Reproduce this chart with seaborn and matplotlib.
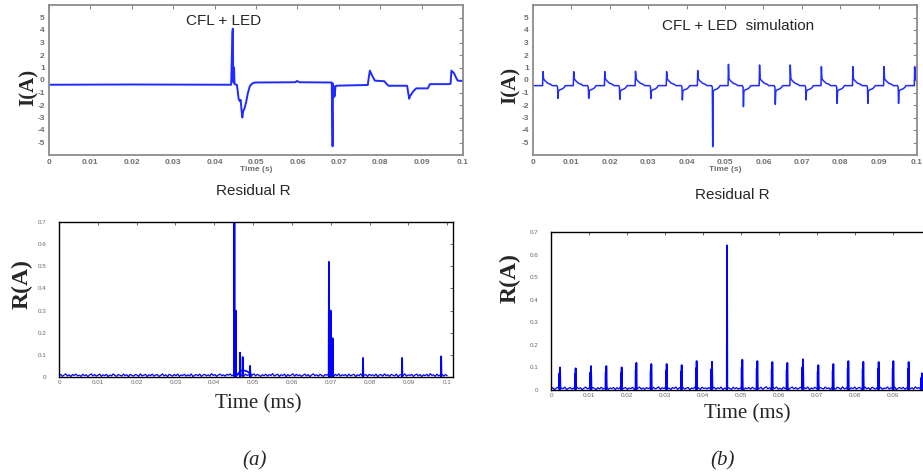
import numpy as np
import pandas as pd
import matplotlib
matplotlib.use("Agg")
import matplotlib.pyplot as plt
import seaborn as sns

# ---------------- data ----------------
# (a) measured current, CFL + LED
meas_t = [0.0, 0.0200, 0.0440, 0.04430, 0.04440, 0.04450, 0.04460, 0.04470, 0.04480,
          0.04500, 0.04540, 0.04580, 0.04610, 0.04630, 0.04650, 0.04670, 0.04690,
          0.04720, 0.04760, 0.04800, 0.04850, 0.04900, 0.04970, 0.05500, 0.05950,
          0.05990, 0.06050, 0.06830, 0.06850, 0.06860, 0.06870, 0.06880, 0.06900,
          0.06920, 0.06940, 0.06960, 0.07000, 0.07400, 0.07700, 0.07720, 0.07750,
          0.07790, 0.07870, 0.08100, 0.08150, 0.08200, 0.08650, 0.08700, 0.08720,
          0.08800, 0.08870, 0.09150, 0.09200, 0.09650, 0.09700, 0.09720, 0.09780,
          0.09870, 0.1000]
meas_i = [-0.38, -0.36, -0.38, 3.8, 4.1, 0.1, -0.2, 1.0, -0.3,
          -0.35, -0.4, -1.5, -1.7, -1.6, -2.4, -3.0, -2.5,
          -2.3, -1.8, -1.1, -0.5, -0.3, -0.2, -0.19, -0.18,
          -0.08, -0.18, -0.2, -5.3, -0.3, -1.4, -0.5, -1.3,
          -0.5, -0.46, -0.46, -0.45, -0.42, -0.4, 0.1, 0.75,
          0.45, -0.05, -0.1, -0.3, -0.46, -0.46, -1.5, -1.3,
          -0.9, -0.67, -0.67, -0.33, -0.33, -0.3, 0.75, 0.55,
          -0.05, -0.08]

# (a) residual R
res_a_spike_t = [0.04518, 0.04552, 0.04664, 0.04733, 0.04923,
                 0.06954, 0.06997, 0.07048, 0.07831, 0.08838, 0.09845]
res_a_spike_h = [0.70, 0.30, 0.11, 0.09, 0.05,
                 0.52, 0.30, 0.175, 0.086, 0.086, 0.093]
res_a_tail_t = [0.04560, 0.04640, 0.04700, 0.04760, 0.04850, 0.04950]
res_a_tail_v = [0.006, 0.02, 0.03, 0.03, 0.025, 0.012]
noise_a = [0.006, 0.012, 0.003, 0.009, 0.014, 0.004, 0.010, 0.002, 0.011, 0.007,
           0.013, 0.005, 0.008, 0.003, 0.012, 0.006, 0.010, 0.002, 0.009, 0.014,
           0.005, 0.011, 0.004, 0.008, 0.013, 0.003, 0.010, 0.006, 0.012, 0.002,
           0.009, 0.005, 0.014, 0.007, 0.003, 0.011, 0.008, 0.004, 0.013, 0.006,
           0.010, 0.002, 0.012, 0.007, 0.004, 0.011, 0.009, 0.003, 0.014, 0.005,
           0.008, 0.012, 0.002, 0.010, 0.006, 0.013, 0.004, 0.009, 0.011, 0.003,
           0.007, 0.014, 0.005, 0.010, 0.002, 0.012, 0.008, 0.004, 0.011, 0.006,
           0.013, 0.003, 0.009, 0.007, 0.012, 0.004, 0.010, 0.005, 0.014, 0.002,
           0.008, 0.011, 0.006, 0.013, 0.003, 0.009, 0.012, 0.005, 0.010, 0.004,
           0.015, 0.007, 0.011, 0.003, 0.009, 0.013, 0.006, 0.010, 0.004, 0.012,
           0.008, 0.014, 0.005, 0.011, 0.003, 0.009, 0.012, 0.006, 0.010, 0.004,
           0.013, 0.007, 0.011, 0.002, 0.009, 0.014, 0.005, 0.012, 0.008, 0.003,
           0.010, 0.006, 0.013, 0.004, 0.011, 0.007, 0.015, 0.005, 0.009, 0.012,
           0.003, 0.010, 0.007, 0.013, 0.002, 0.011, 0.005, 0.009, 0.014, 0.004,
           0.012, 0.006, 0.010, 0.003, 0.008, 0.013, 0.005, 0.011, 0.002, 0.009,
           0.014, 0.006, 0.010, 0.004, 0.012, 0.007, 0.003, 0.011, 0.008, 0.013,
           0.005, 0.009, 0.002, 0.012, 0.006, 0.014, 0.004, 0.010, 0.007, 0.011,
           0.003, 0.013, 0.005, 0.009, 0.012, 0.002, 0.010, 0.006, 0.014, 0.004,
           0.008, 0.011, 0.003, 0.012, 0.007, 0.010, 0.005, 0.013, 0.002, 0.009,
           0.011, 0.004, 0.014, 0.006, 0.010, 0.003, 0.012, 0.008, 0.005, 0.013,
           0.002, 0.009, 0.011, 0.006, 0.014, 0.004, 0.010, 0.007, 0.012, 0.003,
           0.009, 0.013, 0.005, 0.011, 0.002, 0.010, 0.006, 0.012, 0.004, 0.015,
           0.007, 0.010, 0.003, 0.013, 0.005, 0.009, 0.012, 0.004, 0.011, 0.006]

# (b) simulated current: spike instants and peak values
sim_pos_t = [0.0026, 0.0106, 0.0187, 0.0267, 0.0348, 0.0429, 0.0509,
             0.0590, 0.0670, 0.0751, 0.0833, 0.0914, 0.0994]
sim_pos_h = [0.67, 0.67, 0.67, 0.70, 0.67, 0.75, 1.25,
             1.20, 1.20, 1.07, 1.07, 1.07, 1.07]
sim_neg_t = [0.0065, 0.0145, 0.0226, 0.0307, 0.0389, 0.0468,
             0.0548, 0.0631, 0.0711, 0.0792, 0.0872, 0.0952]
sim_neg_h = [-1.47, -1.47, -1.55, -1.47, -1.60, -5.33,
             -2.13, -1.95, -1.60, -1.87, -1.87, -1.87]
sim_base = -0.45

# (b) residual R
res_b_spike_t = [0.00237, 0.00649, 0.01053, 0.01456, 0.01860, 0.02246, 0.02640,
                 0.03044, 0.03439, 0.03833, 0.04237, 0.04632, 0.05035, 0.05430,
                 0.05825, 0.06219, 0.06632, 0.07035, 0.07430, 0.07825, 0.08219,
                 0.08623, 0.09009, 0.09412, 0.09763]
res_b_spike_h = [0.100, 0.096, 0.106, 0.106, 0.100, 0.120, 0.115,
                 0.115, 0.110, 0.128, 0.125, 0.640, 0.134, 0.128,
                 0.124, 0.120, 0.136, 0.110, 0.115, 0.128, 0.125,
                 0.124, 0.128, 0.124, 0.074]
noise_b = [0.004, 0.010, 0.002, 0.008, 0.012, 0.003, 0.009, 0.006, 0.013, 0.002,
           0.007, 0.011, 0.004, 0.009, 0.003, 0.012, 0.006, 0.010, 0.002, 0.008,
           0.013, 0.005, 0.009, 0.003, 0.011, 0.007, 0.002, 0.010, 0.005, 0.012,
           0.004, 0.008, 0.014, 0.003, 0.009, 0.006, 0.011, 0.002, 0.010, 0.005,
           0.013, 0.004, 0.008, 0.011, 0.003, 0.009, 0.006, 0.012, 0.002, 0.010,
           0.007, 0.013, 0.004, 0.009, 0.003, 0.011, 0.006, 0.010, 0.002, 0.012,
           0.005, 0.008, 0.014, 0.003, 0.010, 0.006, 0.012, 0.004, 0.009, 0.002,
           0.011, 0.007, 0.013, 0.003, 0.010, 0.005, 0.012, 0.004, 0.008, 0.011,
           0.002, 0.009, 0.006, 0.013, 0.004, 0.010, 0.003, 0.012, 0.007, 0.009,
           0.005, 0.011, 0.003, 0.008, 0.012, 0.004, 0.010, 0.006, 0.013, 0.002,
           0.009, 0.005, 0.011, 0.007, 0.003, 0.012, 0.006, 0.010, 0.004, 0.008,
           0.013, 0.002, 0.009, 0.006, 0.011, 0.004, 0.012, 0.007, 0.003, 0.010,
           0.006, 0.012, 0.003, 0.009, 0.014, 0.005, 0.010, 0.002, 0.011, 0.007,
           0.013, 0.004, 0.008, 0.003, 0.012, 0.006, 0.010, 0.002, 0.009, 0.013,
           0.005, 0.011, 0.004, 0.008, 0.012, 0.003, 0.010, 0.006, 0.013, 0.002,
           0.009, 0.005, 0.012, 0.007, 0.003, 0.011, 0.008, 0.004, 0.013, 0.006,
           0.010, 0.002, 0.011, 0.007, 0.004, 0.012, 0.009, 0.003, 0.014, 0.005,
           0.008, 0.012, 0.002, 0.010, 0.006, 0.013, 0.004, 0.009, 0.011, 0.003,
           0.007, 0.013, 0.005, 0.010, 0.002, 0.012, 0.008, 0.004, 0.011, 0.006,
           0.012, 0.003, 0.009, 0.007, 0.013, 0.004, 0.010, 0.005, 0.014, 0.002,
           0.008, 0.011, 0.006, 0.012, 0.003, 0.009, 0.013, 0.005, 0.010, 0.004,
           0.014, 0.007, 0.011, 0.003, 0.009, 0.012, 0.006, 0.010, 0.004, 0.013]

top_xticks = [0, 0.01, 0.02, 0.03, 0.04, 0.05, 0.06, 0.07, 0.08, 0.09, 0.1]
top_xlabels = ["0", "0.01", "0.02", "0.03", "0.04", "0.05", "0.06", "0.07", "0.08", "0.09", "0.1"]
top_yticks = [-5, -4, -3, -2, -1, 0, 1, 2, 3, 4, 5]
top_ylabels = ["-5", "-4", "-3", "-2", "-1", "0", "1", "2", "3", "4", "5"]
bot_yticks = [0, 0.1, 0.2, 0.3, 0.4, 0.5, 0.6, 0.7]
bot_ylabels = ["0", "0.1", "0.2", "0.3", "0.4", "0.5", "0.6", "0.7"]

# ---------------- helpers to build drawable series ----------------
def sim_series():
    pts = [(0.0, sim_base)]
    pos_shape = [(-0.0001, 0.0), (0.0, None), (0.00015, 0.55), (0.0005, 0.40),
                 (0.0012, 0.20), (0.0020, 0.10), (0.0024, 0.0)]
    neg_shape = [(-0.0003, 0.0), (-0.0001, -0.12), (0.0, None), (0.00012, -0.45),
                 (0.0004, -0.35), (0.0012, -0.25), (0.0016, -0.15), (0.0019, 0.0)]
    for t, h in zip(sim_pos_t, sim_pos_h):
        for dt, dv in pos_shape:
            pts.append((t + dt, h if dv is None else sim_base + dv))
    for t, h in zip(sim_neg_t, sim_neg_h):
        for dt, dv in neg_shape:
            pts.append((t + dt, h if dv is None else sim_base + dv))
    pts.append((0.1, sim_base))
    pts.sort(key=lambda p: p[0])
    return pd.DataFrame(pts, columns=["t", "i"])

def spike_series(times, heights, double=False):
    rows = []
    for k, (t, h) in enumerate(zip(times, heights)):
        if double and h < 0.3:
            seg = [(t - 0.00022, 0.004), (t - 0.00015, 0.75 * h), (t - 0.0001, 0.01),
                   (t, h), (t + 0.00012, 0.004)]
        else:
            seg = [(t - 0.00006, 0.004), (t, h), (t + 0.00008, 0.004)]
        for x, y in seg:
            rows.append((x, y, k))
    return pd.DataFrame(rows, columns=["t", "r", "k"])

# ---------------- figure ----------------
sns.set_style("white")
plt.rcParams["font.family"] = ["Liberation Sans", "DejaVu Sans"]

fig = plt.figure(figsize=(9.23, 4.75), dpi=100)
W, H = 923.0, 475.0
def add_ax(l, t, r, b):
    return fig.add_axes([l / W, 1 - b / H, (r - l) / W, (b - t) / H])

ax_tl = add_ax(49, 5, 463, 155)
ax_tr = add_ax(533, 5, 917, 155)
ax_bl = add_ax(59, 222, 453, 377)
ax_br = add_ax(551, 232, 931, 390)

line_top = "#1f2bff"
line_bot = "#0000ff"

# top-left
df_meas = pd.DataFrame({"t": meas_t, "i": meas_i})
sns.lineplot(data=df_meas, x="t", y="i", ax=ax_tl, color=line_top, lw=1.4,
             estimator=None, sort=False)
# top-right
sns.lineplot(data=sim_series(), x="t", y="i", ax=ax_tr, color=line_top, lw=1.1,
             estimator=None, sort=False)

for ax in (ax_tl, ax_tr):
    ax.set_xlim(0, 0.1)
    ax.set_ylim(-6, 6)
    ax.set_xticks(top_xticks)
    ax.set_xticklabels(top_xlabels)
    ax.set_yticks(top_yticks)
    ax.set_yticklabels(top_ylabels)
    ax.tick_params(direction="in", length=3, width=0.8, colors="#8a8a8a",
                   labelcolor="#707070", labelsize=6, top=True, right=True, pad=3)
    for lab in ax.get_xticklabels() + ax.get_yticklabels():
        lab.set_fontweight("bold")
    for s in ax.spines.values():
        s.set_color("#8c8c8c")
        s.set_linewidth(1.3)
    ax.set_xlabel("Time (s)", fontsize=6, color="#707070", fontweight="bold", labelpad=0)
    ax.set_ylabel("")

# bottom-left
noise_a_t = np.linspace(0, 0.1, len(noise_a))
sns.lineplot(x=noise_a_t, y=noise_a, ax=ax_bl, color=line_bot, lw=0.9,
             estimator=None, sort=False)
df_ra = spike_series(res_a_spike_t, res_a_spike_h)
sns.lineplot(data=df_ra, x="t", y="r", units="k", ax=ax_bl, color=line_bot, lw=1.3,
             estimator=None, sort=False)
sns.lineplot(x=res_a_tail_t, y=res_a_tail_v, ax=ax_bl, color=line_bot, lw=1.2,
             estimator=None, sort=False)
ax_bl.set_xlim(0, 0.1015)

# bottom-right
noise_b_t = np.linspace(0, 0.1, len(noise_b))
sns.lineplot(x=noise_b_t, y=noise_b, ax=ax_br, color=line_bot, lw=0.9,
             estimator=None, sort=False)
df_rb = spike_series(res_b_spike_t, res_b_spike_h, double=True)
sns.lineplot(data=df_rb, x="t", y="r", units="k", ax=ax_br, color=line_bot, lw=1.3,
             estimator=None, sort=False)
ax_br.set_xlim(0, 0.1)

for ax in (ax_bl, ax_br):
    ax.set_ylim(0, 0.7)
    ax.set_xticks(top_xticks)
    ax.set_xticklabels(top_xlabels)
    ax.set_yticks(bot_yticks)
    ax.set_yticklabels(bot_ylabels)
    ax.tick_params(direction="in", length=2, width=0.6, colors="#555555",
                   labelcolor="#666666", labelsize=4.5, top=True, right=True)
    ax.tick_params(axis="y", pad=9)
    ax.tick_params(axis="x", pad=2)
    for s in ax.spines.values():
        s.set_color("black")
        s.set_linewidth(1.0)
    ax.set_xlabel("")
    ax.set_ylabel("")
    if ax.get_legend():
        ax.get_legend().remove()

# ---------------- texts ----------------
def ftext(x, y, s, **kw):
    fig.text(x / W, 1 - y / H, s, ha="center", va="center", **kw)

serif = ["Liberation Serif", "DejaVu Serif"]
ftext(224, 21, "CFL + LED", fontsize=11)
ftext(738, 26, "CFL + LED  simulation", fontsize=11)
ftext(253, 191, "Residual R", fontsize=11)
ftext(732, 195, "Residual R", fontsize=11)
ftext(29, 87, "I(A)", fontsize=15, fontweight="bold", family=serif, rotation=90)
ftext(511, 85, "I(A)", fontsize=15, fontweight="bold", family=serif, rotation=90)
ftext(22, 284, "R(A)", fontsize=17, fontweight="bold", family=serif, rotation=90)
ftext(510, 278, "R(A)", fontsize=17, fontweight="bold", family=serif, rotation=90)
ftext(258, 404, "Time (ms)", fontsize=15, family=serif)
ftext(747, 414, "Time (ms)", fontsize=15, family=serif)
ftext(255, 461, "(a)", fontsize=15, family=serif, style="italic")
ftext(723, 461, "(b)", fontsize=15, family=serif, style="italic")

fig.savefig("out.png", dpi=100, facecolor="white")
